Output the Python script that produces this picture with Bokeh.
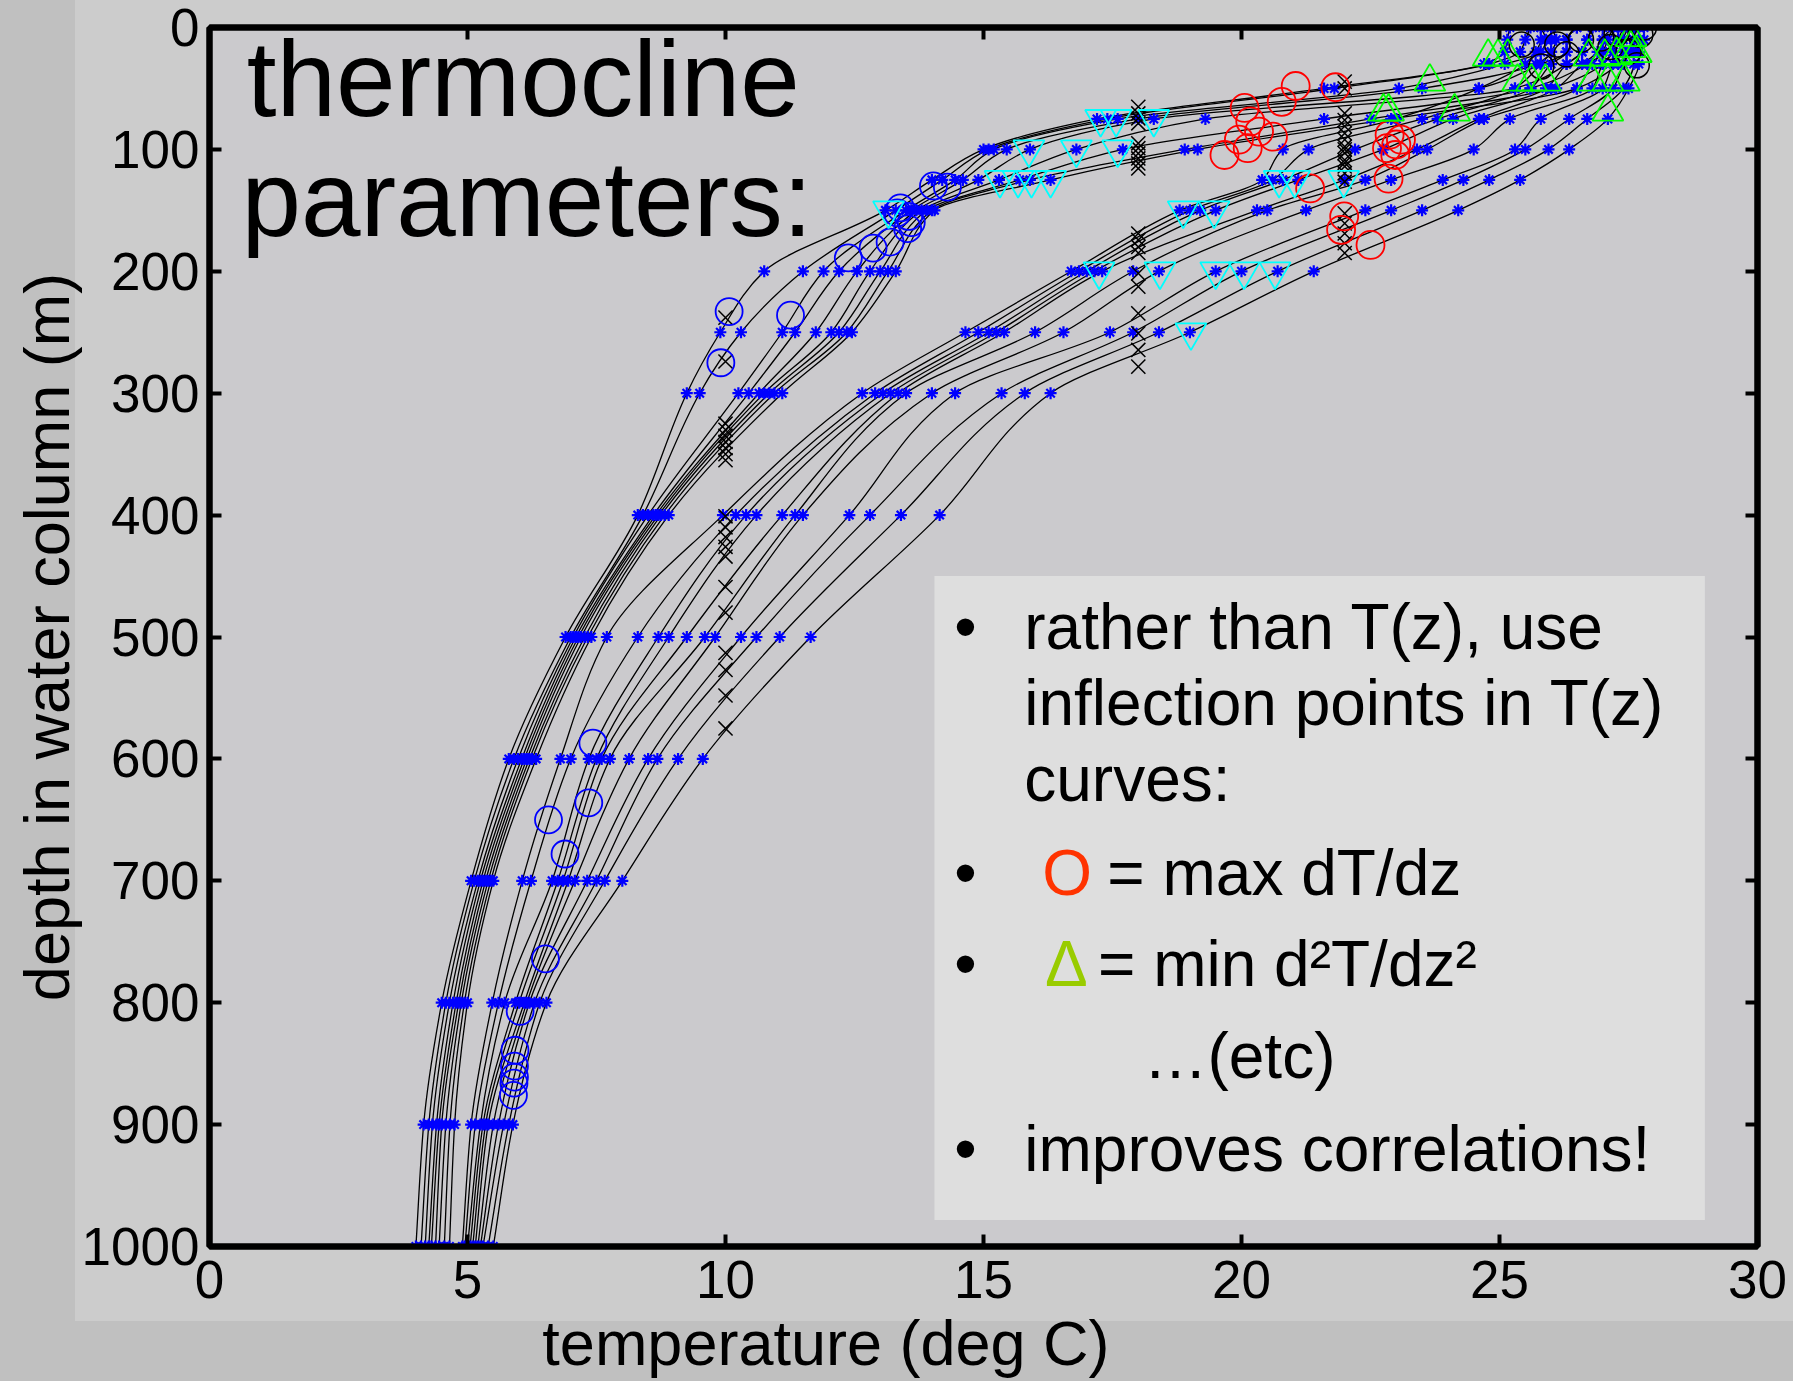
from bokeh.plotting import figure
from bokeh.models import Range1d, FixedTicker, LinearAxis, BoxAnnotation, Label
from bokeh.embed import file_html
from bokeh.resources import INLINE

# ---------------- data ----------------
depths = [0, 10, 20, 30, 50, 75, 100, 125, 150, 200, 250, 300, 400, 500, 600, 700, 800, 900, 1000]

# shallow, sharp-thermocline profiles (temperature, deg C)
A1 = [25.2, 25.15, 25.1, 24.7, 21.6, 17.2, 15.0, 14.0, 13.1, 10.75, 9.9, 9.25, 8.3, 6.9, 5.8, 5.07, 4.5, 4.15, 4.0]
A2 = [25.6, 25.5, 25.4, 24.8, 21.8, 17.4, 15.1, 14.2, 13.3, 11.5, 10.3, 9.5, 8.4, 7.0, 5.9, 5.13, 4.58, 4.25, 4.1]
A3 = [25.8, 25.9, 25.8, 25.1, 23.05, 17.6, 15.2, 14.45, 13.5, 11.9, 11.1, 10.25, 8.5, 7.05, 5.98, 5.2, 4.65, 4.32, 4.18]
A4 = [26.0, 26.0, 26.0, 25.7, 23.5, 18.0, 15.45, 14.6, 13.6, 12.2, 11.35, 10.45, 8.6, 7.1, 6.05, 5.25, 4.72, 4.4, 4.25]
A5 = [26.5, 26.3, 26.3, 25.8, 24.6, 18.3, 15.9, 14.9, 13.7, 12.55, 11.75, 10.65, 8.65, 7.15, 6.1, 5.3, 4.78, 4.45, 4.3]
A6 = [26.8, 26.7, 26.6, 26.3, 25.3, 19.3, 16.8, 15.3, 13.8, 12.8, 12.05, 10.75, 8.7, 7.2, 6.15, 5.35, 4.83, 4.5, 4.38]
A7 = [27.2, 27.0, 27.0, 26.7, 25.6, 21.6, 17.7, 15.7, 13.9, 13.0, 12.2, 10.85, 8.75, 7.27, 6.2, 5.4, 4.88, 4.58, 4.45]
A8 = [27.4, 27.3, 27.2, 27.0, 26.0, 22.5, 18.9, 15.9, 14.0, 13.15, 12.35, 10.95, 8.82, 7.33, 6.25, 5.45, 4.94, 4.66, 4.55]
A9 = [27.6, 27.6, 27.5, 27.3, 26.5, 22.9, 19.15, 16.3, 14.05, 13.3, 12.45, 11.1, 8.9, 7.4, 6.33, 5.5, 5.0, 4.75, 4.65]
# deeper, gradual-thermocline profiles
B1 = [25.8, 25.8, 25.7, 25.5, 24.6, 23.0, 20.8, 20.4, 18.8, 16.7, 14.65, 12.65, 9.95, 7.7, 6.8, 6.06, 5.48, 5.07, 4.9]
B2 = [26.0, 26.1, 26.0, 25.8, 25.3, 23.5, 21.3, 20.6, 19.0, 16.85, 14.9, 12.9, 10.2, 8.3, 7.0, 6.23, 5.6, 5.15, 4.95]
B3 = [26.5, 26.3, 26.3, 26.0, 25.6, 23.8, 22.2, 20.8, 19.2, 17.0, 15.1, 13.05, 10.4, 8.7, 7.35, 6.64, 5.72, 5.25, 5.0]
B4 = [26.8, 26.7, 26.6, 26.3, 25.9, 24.1, 22.75, 21.1, 19.5, 17.15, 15.25, 13.2, 10.6, 8.9, 7.5, 6.75, 5.93, 5.3, 5.05]
B5 = [27.0, 27.0, 26.9, 26.6, 26.1, 24.6, 23.4, 22.0, 20.3, 17.3, 15.4, 13.35, 11.1, 9.25, 7.6, 6.85, 6.0, 5.35, 5.1]
B6 = [27.2, 27.1, 27.0, 26.8, 26.5, 24.7, 23.6, 22.4, 20.5, 17.9, 16.0, 13.5, 11.35, 9.6, 7.76, 6.95, 6.1, 5.4, 5.15]
B7 = [27.3, 27.3, 27.2, 27.0, 26.8, 25.2, 24.5, 22.9, 21.25, 18.4, 16.55, 14.0, 11.5, 9.8, 8.13, 7.08, 6.15, 5.5, 5.2]
B8 = [27.5, 27.4, 27.4, 27.2, 27.0, 25.8, 25.3, 23.9, 22.4, 19.5, 17.45, 14.45, 12.4, 10.3, 8.5, 7.32, 6.2, 5.6, 5.25]
B9 = [27.6, 27.6, 27.5, 27.4, 27.2, 26.35, 25.5, 24.3, 22.9, 20.0, 17.9, 15.35, 12.8, 10.6, 8.68, 7.5, 6.3, 5.7, 5.3]
B10 = [27.7, 27.7, 27.6, 27.6, 27.4, 26.7, 25.95, 24.8, 23.5, 20.7, 18.4, 15.8, 13.4, 11.05, 9.08, 7.66, 6.4, 5.8, 5.4]
B11 = [27.8, 27.8, 27.7, 27.7, 27.5, 27.1, 26.35, 25.4, 24.2, 21.4, 19.0, 16.3, 14.15, 11.65, 9.56, 8.0, 6.53, 5.88, 5.5]

profiles = [A1, A2, A3, A4, A5, A6, A7, A8, A9,
            B1, B2, B3, B4, B5, B6, B7, B8, B9, B10, B11]

# max dT/dz (red circles)
red_T = [21.05, 20.78, 21.82, 20.06, 20.17, 20.34, 20.61, 19.95, 20.12, 19.67,
         22.87, 23.09, 22.82, 22.98, 23.0, 22.85, 21.33, 21.99, 21.93, 22.5]
red_z = [48, 61, 49, 66, 77, 85.5, 89.6, 92, 99, 104.6,
         88, 92, 99, 104.6, 96, 124, 132, 155, 166, 178.4]

# min d2T/dz2 (green up-triangles)
green_T = [24.78, 24.97, 25.16, 25.35, 25.62, 25.89, 26.73, 27.04, 27.27, 27.54,
           27.65, 26.8, 27.1, 27.42, 27.1, 23.65, 22.75, 22.85, 24.13, 27.55]
green_z = [24, 24, 24, 44.5, 44.5, 44.5, 24, 24, 22.6, 17,
           21, 44.5, 44.5, 44.5, 69, 44.5, 69, 69, 69, 8]

# base of thermocline (cyan down-triangles)
cyan_T = [17.27, 17.57, 18.3, 15.88, 16.8, 17.6, 15.32, 15.67, 15.93, 16.3, 13.16,
          20.73, 21.03, 21.98, 18.87, 19.47, 17.24, 18.42, 19.5, 20.05, 20.65, 19.02]
cyan_z = [75, 75, 75, 100, 100, 100, 125, 125, 125, 125, 150,
          125, 125, 125, 150, 150, 200, 200, 200, 200, 200, 250]

# other curvature points (blue circles)
bc_T = [10.07, 9.91, 11.26, 12.38, 12.86, 13.19, 13.53, 13.6, 13.39, 13.33, 13.55, 14.03, 14.3,
        7.43, 7.35, 6.57, 6.89, 6.51, 6.02, 5.92, 5.91, 5.91, 5.9, 5.89]
bc_z = [233, 275, 236, 189, 181, 176, 165, 160, 148, 152, 155, 130, 131,
        587, 636, 650, 678, 764, 807, 839, 852, 861, 866, 876]

# mixed-layer points (black circles)
bk_T = [25.43, 25.81, 26.12, 26.58, 26.97, 27.15, 27.27, 27.5, 27.66, 27.73, 27.8, 27.42, 26.3]
bk_z = [14, 32, 14, 10, 9, 16, 5, 20, 31, 6, 0, 0, 22]

# isotherm depths (black x)
iso10_z = [238, 274, 325, 330, 335, 340, 345, 350, 355, 401, 410, 418, 426, 434, 459, 480, 513, 527, 548, 575]
iso18_z = [65, 70.5, 74.5, 78.6, 95, 99, 103.3, 107.4, 111.5, 115.6,
           169, 174.3, 180, 185, 201.7, 212.6, 234.5, 250.9, 264.5, 278.2]
iso22_z = [44.4, 50, 70.4, 76, 81, 86.8, 92, 97.8, 100, 103,
           108.7, 111, 114, 119.6, 126.5, 152.5, 160.7, 169, 177, 185]

x_ticks = [0, 5, 10, 15, 20, 25, 30]
y_ticks = [0, 100, 200, 300, 400, 500, 600, 700, 800, 900, 1000]

# ---------------- figure ----------------
W, H = 1793, 1381
FONT = "Liberation Sans"
PX_PER_M = 1219.0 / 1000.0     # frame height / depth span


def up(px):
    """convert a pixel lift into depth units (for text placement)"""
    return px / PX_PER_M


p = figure(width=W, height=H, output_backend="svg", toolbar_location=None,
           x_range=Range1d(0, 30), y_range=Range1d(1000, 0),
           min_border_left=209, min_border_right=36, min_border_top=27,
           min_border_bottom=135)
# slide-like two-tone surround: lighter panel, darker strip on the left and bottom
p.border_fill_alpha = 0.0
p.styles = {
    "background": ("linear-gradient(to right, #c0c0c0 0px, #c0c0c0 75px, rgba(0,0,0,0) 75px), "
                   "linear-gradient(to bottom, #cccccc 0px, #cccccc 1321px, #c0c0c0 1321px)")
}
p.background_fill_color = "#cbcacd"
p.outline_line_color = "black"
p.outline_line_width = 6
p.xgrid.visible = False
p.ygrid.visible = False


def style_axis(ax):
    ax.axis_line_width = 6
    ax.axis_line_color = "black"
    ax.major_tick_in = 12
    ax.major_tick_out = 0
    ax.major_tick_line_width = 4
    ax.major_tick_line_color = "black"
    ax.minor_tick_line_color = None
    ax.major_label_text_font = FONT
    ax.major_label_text_font_size = "53px"
    ax.major_label_text_color = "black"


xa = p.xaxis[0]
xa.ticker = FixedTicker(ticks=x_ticks)
style_axis(xa)
xa.major_label_standoff = 14
# the original's x title sits left of centre: pad with no-break spaces so the
# centred label lands where the original has it
xa.axis_label = "temperature (deg C)" + "\u00a0" * 18
xa.axis_label_text_font = FONT
xa.axis_label_text_font_size = "63px"
xa.axis_label_text_font_style = "normal"
xa.axis_label_text_color = "black"
xa.axis_label_standoff = 7

ya = p.yaxis[0]
ya.ticker = FixedTicker(ticks=y_ticks)
style_axis(ya)
ya.major_label_standoff = 10
ya.axis_label = "depth in water column (m)"
ya.axis_label_text_font = FONT
ya.axis_label_text_font_size = "63px"
ya.axis_label_text_font_style = "normal"
ya.axis_label_text_color = "black"
ya.axis_label_standoff = -3

top_ax = LinearAxis(ticker=FixedTicker(ticks=x_ticks),
                    major_label_overrides={t: "" for t in x_ticks})
style_axis(top_ax)
top_ax.major_label_text_font_size = "1px"
top_ax.major_label_standoff = 0
p.add_layout(top_ax, "above")

right_ax = LinearAxis(ticker=FixedTicker(ticks=y_ticks),
                      major_label_overrides={t: "" for t in y_ticks})
style_axis(right_ax)
right_ax.major_label_text_font_size = "1px"
right_ax.major_label_standoff = 0
p.add_layout(right_ax, "right")


# ---------------- curves (smooth piecewise cubic through the data) ----------------
def pchip_slopes(z, t):
    n = len(z)
    h = [z[i + 1] - z[i] for i in range(n - 1)]
    d = [(t[i + 1] - t[i]) / h[i] for i in range(n - 1)]
    m = [0.0] * n
    m[0] = d[0]
    m[-1] = d[-1]
    for k in range(1, n - 1):
        if d[k - 1] == 0 or d[k] == 0 or (d[k - 1] > 0) != (d[k] > 0):
            m[k] = 0.0
        else:
            w1 = 2 * h[k] + h[k - 1]
            w2 = h[k] + 2 * h[k - 1]
            m[k] = (w1 + w2) / (w1 / d[k - 1] + w2 / d[k])
    return m


for prof in profiles:
    m = pchip_slopes(depths, prof)
    x0, y0, x1, y1, cx0, cy0, cx1, cy1 = [], [], [], [], [], [], [], []
    for k in range(len(depths) - 1):
        h = depths[k + 1] - depths[k]
        x0.append(prof[k]); y0.append(depths[k])
        x1.append(prof[k + 1]); y1.append(depths[k + 1])
        cx0.append(prof[k] + m[k] * h / 3.0); cy0.append(depths[k] + h / 3.0)
        cx1.append(prof[k + 1] - m[k + 1] * h / 3.0); cy1.append(depths[k + 1] - h / 3.0)
    p.bezier(x0=x0, y0=y0, x1=x1, y1=y1, cx0=cx0, cy0=cy0, cx1=cx1, cy1=cy1,
             line_color="black", line_width=1.3)

for prof in profiles:
    p.scatter(x=prof, y=depths, marker="asterisk", size=12,
              line_color="#0000ff", line_width=2.2)

p.scatter(x=[10] * len(iso10_z), y=iso10_z, marker="x", size=20,
          line_color="black", line_width=1.5)
p.scatter(x=[18] * len(iso18_z), y=iso18_z, marker="x", size=20,
          line_color="black", line_width=1.5)
p.scatter(x=[22] * len(iso22_z), y=iso22_z, marker="x", size=20,
          line_color="black", line_width=1.5)

p.scatter(x=bc_T, y=bc_z, marker="circle", size=27, fill_color=None,
          line_color="#0000ff", line_width=1.8)
p.scatter(x=bk_T, y=bk_z, marker="circle", size=25, fill_color=None,
          line_color="black", line_width=1.5)
p.scatter(x=red_T, y=red_z, marker="circle", size=28, fill_color=None,
          line_color="#ff0000", line_width=1.8)
p.scatter(x=cyan_T, y=cyan_z, marker="inverted_triangle", size=31, fill_color=None,
          line_color="#00ffff", line_width=1.8)
p.scatter(x=green_T, y=green_z, marker="triangle", size=31, fill_color=None,
          line_color="#00ff00", line_width=1.8)

# ---------------- text ----------------
TITLE_LIFT = up(38)
p.add_layout(Label(x=0.72, y=73.4 - TITLE_LIFT, text="thermocline", text_font=FONT,
                   text_font_size="107px", text_color="black",
                   text_baseline="alphabetic", text_align="left"))
p.add_layout(Label(x=0.62, y=171.9 - TITLE_LIFT, text="parameters:", text_font=FONT,
                   text_font_size="107px", text_color="black",
                   text_baseline="alphabetic", text_align="left"))

# text box
p.add_layout(BoxAnnotation(left=14.05, right=28.98, top=450, bottom=978.3,
                           fill_color="#dedede", fill_alpha=1.0, line_color=None))

BOX_LIFT = up(21)


def box_text(x, y, txt, color="black", align="left"):
    p.add_layout(Label(x=x, y=y - BOX_LIFT, text=txt, text_font=FONT,
                       text_font_size="64px", text_color=color,
                       text_baseline="alphabetic", text_align=align))


for yb in [509.0, 710.8, 785.5, 937.2]:
    box_text(14.65, yb, "\u2022", align="center")
box_text(15.79, 509.0, "rather than T(z), use")
box_text(15.79, 571.3, "inflection points in T(z)")
box_text(15.79, 633.7, "curves:")
box_text(16.14, 710.8, "O", color="#ff3300")
box_text(17.40, 710.8, "= max dT/dz")
box_text(16.19, 785.5, "\u0394", color="#99cc00")
box_text(17.22, 785.5, "= min d\u00b2T/dz\u00b2")
box_text(18.10, 861.0, "\u2026(etc)")
box_text(15.79, 937.2, "improves correlations!")

open("out.html", "w").write(file_html(p, INLINE))
